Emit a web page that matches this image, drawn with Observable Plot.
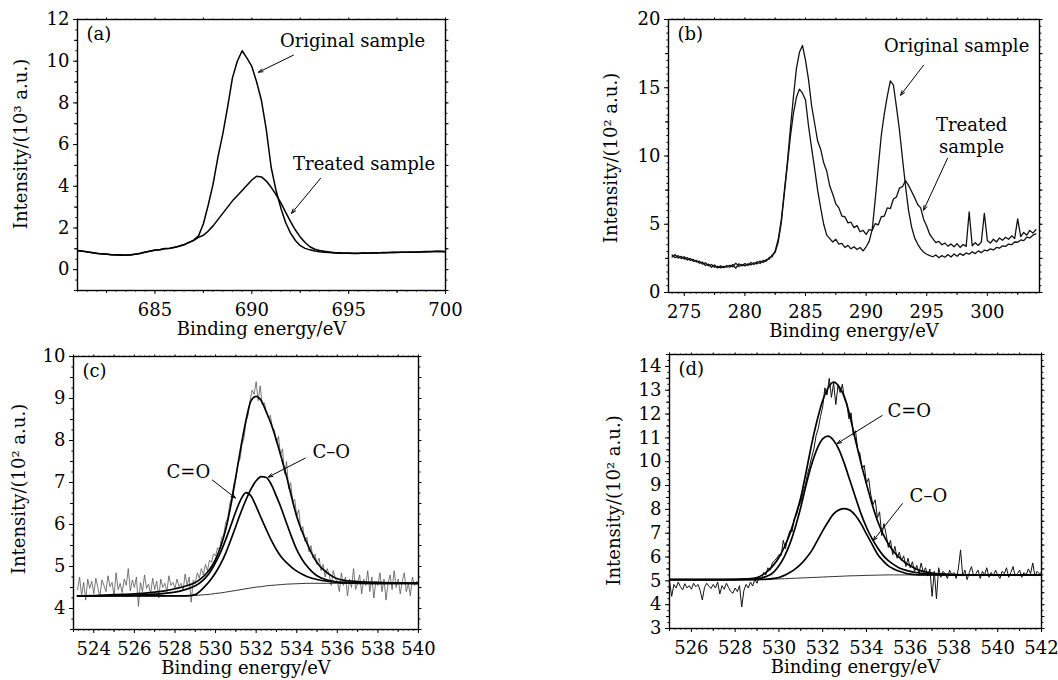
<!DOCTYPE html>
<html><head><meta charset="utf-8">
<script src="https://cdn.jsdelivr.net/npm/d3@7"></script>
<script src="https://cdn.jsdelivr.net/npm/@observablehq/plot@0.6"></script>
<style>
html,body{margin:0;padding:0;background:#fff;}
#root{position:relative;width:1058px;height:680px;overflow:hidden;background:#fff;}
#root svg{position:absolute;overflow:visible;}
</style></head><body><div id="root"></div>
<script>
// ---------- Panel (a): F 1s region, 681–700 eV, step 0.25 eV ----------
const aStart = 681, aStep = 0.25;
const aOriginal = [
  0.92,0.89,0.85,0.82,0.78,0.76,0.74,0.72,
  0.70,0.71,0.69,0.72,0.74,0.79,0.84,0.89,
  0.93,0.96,1.00,1.02,1.07,1.12,1.20,1.30,
  1.42,1.62,2.20,3.10,4.10,5.40,6.50,7.80,
  9.20,10.00,10.50,10.15,9.75,9.00,8.10,6.70,
  4.90,3.80,2.95,2.25,1.75,1.40,1.15,1.02,
  0.95,0.90,0.86,0.84,0.82,0.80,0.79,0.80,
  0.79,0.78,0.79,0.80,0.79,0.81,0.80,0.82,
  0.81,0.83,0.82,0.84,0.83,0.85,0.84,0.86,
  0.87,0.86,0.88,0.87,0.86
];
const aTreated = [
  0.91,0.88,0.86,0.81,0.79,0.75,0.75,0.71,
  0.71,0.69,0.70,0.70,0.75,0.78,0.85,0.88,
  0.94,0.95,1.01,1.03,1.06,1.13,1.19,1.31,
  1.40,1.55,1.65,1.85,2.10,2.40,2.70,3.00,
  3.30,3.55,3.80,4.05,4.30,4.48,4.45,4.25,
  3.95,3.60,3.20,2.75,2.30,1.90,1.57,1.30,
  1.10,0.98,0.92,0.88,0.85,0.82,0.81,0.79,
  0.80,0.79,0.78,0.80,0.80,0.80,0.81,0.81,
  0.82,0.82,0.83,0.83,0.84,0.84,0.85,0.85,
  0.86,0.87,0.87,0.88,0.87
];

// ---------- Panel (b): C 1s region, 274–304 eV, step 0.25 eV ----------
const bStart = 274, bStep = 0.25;
const bOriginal = [
  2.60,2.78,2.52,2.65,2.45,2.55,2.35,2.42,
  2.25,2.30,2.08,2.18,1.95,2.05,1.85,1.92,
  1.80,1.92,1.85,2.00,1.88,2.15,1.90,2.05,
  1.95,2.10,2.02,2.18,2.10,2.30,2.20,2.40,
  2.45,2.75,2.95,3.70,5.10,7.20,9.30,11.40,
  13.10,14.30,14.90,14.60,14.10,12.20,10.60,9.10,
  7.50,6.20,5.00,4.20,3.95,3.70,3.90,3.55,
  3.60,3.30,3.45,3.20,3.35,3.15,3.30,3.05,
  3.35,3.75,4.60,6.80,9.20,11.50,13.10,14.40,
  15.50,15.20,13.60,11.90,9.80,7.80,6.00,4.80,
  4.00,3.55,3.20,2.95,2.80,2.70,2.62,2.75,
  2.55,2.70,2.58,2.78,2.60,2.82,2.65,2.85,
  2.72,2.90,2.80,2.98,2.85,3.05,2.92,3.10,
  3.05,3.20,3.12,3.30,3.25,3.42,3.38,3.55,
  3.50,3.70,3.68,3.85,3.80,4.05,4.00,4.20,
  4.30
];
const bTreated = [
  2.75,2.55,2.70,2.48,2.62,2.38,2.50,2.28,
  2.35,2.15,2.22,1.98,2.08,1.85,2.02,1.80,
  1.95,1.82,1.98,1.85,2.05,1.78,2.10,1.95,
  2.12,1.98,2.20,2.05,2.25,2.12,2.35,2.28,
  2.55,2.62,3.05,3.90,5.30,7.40,9.50,12.00,
  14.30,16.40,17.60,18.10,17.00,15.60,13.70,12.40,
  11.10,10.50,9.50,8.90,7.80,7.20,6.50,6.20,
  5.60,5.55,5.10,5.15,4.75,4.90,4.45,4.55,
  4.25,4.60,4.55,5.05,4.95,5.55,5.60,6.20,
  6.15,6.85,7.00,7.65,7.75,8.20,7.85,7.40,
  6.95,6.45,6.20,5.35,4.85,4.25,3.95,3.65,
  3.75,3.50,3.62,3.40,3.55,3.35,3.58,3.30,
  3.52,3.38,5.90,3.42,3.65,3.45,3.70,5.80,
  3.80,3.62,3.90,3.70,4.00,3.82,4.05,3.90,
  4.15,3.95,5.40,4.10,4.40,4.20,4.55,4.35,
  4.60
];

// ---------- Panel (c): O 1s original, raw 523.2–540 eV step 0.1 ----------
const cStart = 523.2, cStep = 0.1;
const cRaw = [
  4.45,4.75,4.30,4.62,4.20,4.70,4.48,4.65,
  4.35,4.72,4.50,4.28,4.68,4.55,4.40,4.78,4.52,4.62,
  4.30,4.85,4.45,4.60,4.38,4.70,4.55,4.95,4.42,4.68,
  4.50,4.75,4.05,4.62,4.40,4.80,4.48,4.58,4.35,4.72,
  4.45,4.65,4.25,4.70,4.50,4.60,4.40,4.78,4.55,4.62,
  4.48,4.70,4.52,4.60,4.42,4.82,4.55,4.75,4.15,4.68,
  4.60,4.85,4.72,4.95,4.80,5.05,4.90,5.15,5.10,5.30,
  5.25,5.45,5.40,5.70,5.75,6.05,6.15,6.50,6.65,6.95,
  7.10,7.45,7.55,7.90,8.05,8.45,8.60,8.95,9.20,9.10,
  9.40,8.95,9.30,8.85,8.90,8.70,8.55,8.60,8.30,8.25,
  7.95,8.10,7.65,7.80,7.20,7.50,6.85,7.00,6.55,6.60,
  6.20,6.35,5.85,5.95,5.60,5.70,5.35,5.50,5.20,5.30,
  5.05,5.20,4.90,5.05,4.75,4.95,4.80,4.55,4.90,4.70,
  4.65,4.40,4.85,4.55,4.75,4.30,4.70,4.50,4.95,4.45,
  4.60,4.80,4.35,4.70,4.55,4.90,4.40,4.75,4.25,4.65,
  4.55,4.85,4.40,4.70,4.20,4.60,4.80,4.45,4.90,4.50,
  4.70,4.35,4.65,4.85,4.40,4.60,4.30,4.75,4.55,4.65,
  4.60
];
const cFitEnergy = [
  523.2,524,525,526,527,527.5,528,528.5,
  529,529.25,529.5,529.75,530,530.25,530.5,530.75,
  531,531.25,531.5,531.75,532,532.25,532.5,532.75,
  533,533.25,533.5,533.75,534,534.25,534.5,534.75,
  535,535.5,536,536.5,537,538,539,540
];
const cEnvelope = [
  4.30,4.31,4.33,4.35,4.39,4.42,4.47,4.53,
  4.62,4.70,4.81,4.96,5.17,5.47,5.88,6.45,
  7.14,7.85,8.48,8.95,9.05,8.95,8.68,8.38,
  8.00,7.58,7.14,6.65,6.19,5.85,5.56,5.30,
  5.09,4.85,4.71,4.66,4.64,4.62,4.61,4.60
];
const cDoubleCO = [
  4.30,4.30,4.31,4.32,4.34,4.36,4.39,4.45,
  4.54,4.62,4.73,4.88,5.09,5.34,5.64,5.97,
  6.31,6.60,6.76,6.68,6.43,6.15,5.88,5.62,
  5.40,5.22,5.09,4.98,4.89,4.82,4.76,4.72,
  4.69,4.65,4.63,4.62,4.61,4.60,4.60,4.60
];
const cSingleCO = [
  4.30,4.30,4.30,4.30,4.30,4.30,4.30,4.30,
  4.33,4.42,4.54,4.68,4.85,5.06,5.32,5.63,
  5.96,6.29,6.59,6.85,7.04,7.14,7.12,6.95,
  6.67,6.37,6.03,5.70,5.40,5.18,5.01,4.88,
  4.78,4.68,4.63,4.61,4.60,4.60,4.60,4.60
];
const cBackground = [
  4.30,4.30,4.30,4.30,4.30,4.30,4.30,4.30,
  4.31,4.32,4.33,4.34,4.36,4.37,4.39,4.41,
  4.43,4.45,4.47,4.49,4.51,4.52,4.54,4.55,
  4.56,4.57,4.58,4.585,4.59,4.595,4.60,4.60,
  4.60,4.60,4.60,4.60,4.60,4.60,4.60,4.60
];

// ---------- Panel (d): O 1s treated, raw 525–542 eV step 0.1 ----------
const dStart = 525, dStep = 0.1;
const dRaw = [
  5.00,4.35,4.85,4.70,4.95,4.75,4.62,4.88,4.70,4.80,
  4.65,4.90,4.75,4.85,4.60,4.20,4.72,4.90,4.78,4.68,
  4.85,4.70,4.95,4.45,4.80,4.65,4.90,4.72,4.55,4.48,
  4.70,4.55,4.80,3.90,4.60,4.85,4.70,4.95,4.78,5.05,
  4.90,5.20,5.05,5.35,5.25,5.55,5.45,5.75,5.85,5.95,
  6.10,6.05,6.70,6.35,6.80,7.10,7.05,7.60,7.75,8.10,
  8.30,8.70,9.00,9.45,9.80,10.20,10.55,11.10,11.40,11.90,
  12.30,13.10,12.80,13.50,12.70,13.30,12.40,13.20,12.90,13.25,
  12.60,12.45,11.80,12.05,11.10,11.30,10.50,10.35,9.70,9.85,
  9.10,9.30,8.60,8.20,8.40,7.65,7.90,6.90,7.40,6.95,
  6.40,6.70,6.10,6.45,5.95,6.20,5.85,6.05,5.60,5.95,
  5.55,5.80,5.40,5.65,5.30,5.75,5.35,5.55,5.20,5.50,
  4.35,5.40,4.25,5.55,5.15,5.40,5.30,5.10,5.45,5.25,
  5.35,5.10,5.50,6.30,5.20,5.45,5.05,5.35,5.60,5.20,
  5.30,5.45,5.10,5.40,5.25,5.55,5.15,5.35,5.20,5.45,
  5.25,5.10,5.40,5.30,5.55,5.15,5.35,5.60,5.20,5.30,
  5.45,5.15,5.35,5.25,5.50,5.30,5.75,5.20,5.40,5.30,
  5.35
];
const dFitEnergy = [
  525,526,527,528,528.5,
  529,529.25,529.5,529.75,530,530.25,530.5,530.75,
  531,531.25,531.5,531.75,532,532.25,532.5,532.75,
  533,533.25,533.5,533.75,534,534.25,534.5,534.75,
  535,535.25,535.5,535.75,536,536.25,536.5,536.75,
  537,
  537.5,538,539,540,541,542
];
const dEnvelope = [
  5.05,5.05,5.05,5.06,5.08,
  5.14,5.25,5.42,5.66,5.98,6.42,6.97,7.70,
  8.50,9.60,10.75,11.75,12.57,13.10,13.34,13.15,
  12.70,11.90,10.90,9.95,9.07,8.25,7.53,6.98,
  6.55,6.22,5.98,5.78,5.63,5.51,5.42,5.37,
  5.33,
  5.29,5.26,5.25,5.25,5.25,5.25
];
const dDoubleCO = [
  5.05,5.05,5.05,5.05,5.06,
  5.08,5.13,5.21,5.36,5.63,6.02,6.55,7.25,
  8.09,9.05,9.90,10.55,10.96,11.07,10.89,10.50,
  9.90,9.20,8.50,7.82,7.25,6.78,6.40,6.08,
  5.85,5.68,5.54,5.46,5.40,5.35,5.32,5.30,
  5.28,
  5.26,5.25,5.25,5.25,5.25,5.25
];
const dSingleCO = [
  5.05,5.05,5.05,5.05,5.05,
  5.05,5.06,5.07,5.10,5.14,5.23,5.35,5.50,
  5.70,5.96,6.27,6.68,7.10,7.48,7.81,7.98,
  8.03,7.96,7.74,7.40,6.97,6.55,6.13,5.85,
  5.63,5.50,5.40,5.33,5.28,5.26,5.25,5.25,
  5.25,
  5.25,5.25,5.25,5.25,5.25,5.25
];
const dBackground = [
  5.05,5.05,5.05,5.05,5.05,
  5.05,5.06,5.06,5.07,5.08,5.09,5.10,5.11,
  5.12,5.13,5.14,5.15,5.16,5.17,5.18,5.19,
  5.20,5.21,5.215,5.22,5.23,5.235,5.24,5.245,
  5.25,5.25,5.25,5.25,5.25,5.25,5.25,5.25,
  5.25,
  5.25,5.25,5.25,5.25,5.25,5.25
];

// ---------- text ----------
const xTitle = "Binding energy/eV";
const yTitleA = "Intensity/(10³ a.u.)";
const yTitleB = "Intensity/(10² a.u.)";
const panelTags = ["(a)", "(b)", "(c)", "(d)"];
const aNotes = [{x: 695.2, y: 11.03, t: "Original sample"}, {x: 695.8, y: 5.13, t: "Treated sample"}];
const aArrows = [{x1: 692.15, y1: 10.29, x2: 690.34, y2: 9.47}, {x1: 693.55, y1: 4.38, x2: 692.05, y2: 2.70}];
const bNotes = [{x: 297.47, y: 18.12, t: "Original sample"}, {x: 298.7, y: 11.52, t: "Treated\nsample"}];
const bArrows = [{x1: 294.74, y1: 16.65, x2: 292.84, y2: 14.45}, {x1: 296.72, y1: 9.84, x2: 294.74, y2: 6.03}];
const cNotes = [{x: 528.66, y: 7.28, t: "C=O"}, {x: 535.7, y: 7.76, t: "C–O"}];
const cArrows = [{x1: 529.84, y1: 7.06, x2: 530.98, y2: 6.63}, {x1: 534.42, y1: 7.58, x2: 532.6, y2: 7.13}];
const dNotes = [{x: 535.96, y: 12.17, t: "C=O"}, {x: 536.83, y: 8.6, t: "C–O"}];
const dArrows = [{x1: 534.72, y1: 11.94, x2: 532.66, y2: 10.76}, {x1: 535.64, y1: 8.24, x2: 534.31, y2: 6.69}];

// ---------- helpers ----------
const FONT = "'DejaVu Serif', 'Liberation Serif', serif";
const FS = 18;
const uniform = (start, step, ys) => ys.map((y, i) => ({x: Math.round((start + i * step) * 1000) / 1000, y}));
const paired = (xs, ys) => xs.map((x, i) => ({x, y: ys[i]}));
const rng = (a, b, s) => d3.range(0, Math.round((b - a) / s) + 1).map(i => Math.round((a + i * s) * 1000) / 1000);

function axes(xt, yt) {
  const none = () => "";
  return [
    Plot.axisX({ticks: xt.major, tickSize: 4, tickPadding: 9, label: null, tickFormat: d => String(d), fontSize: FS}),
    Plot.axisX({ticks: xt.minor, tickSize: 3, label: null, tickFormat: none}),
    Plot.axisX({ticks: xt.fine, tickSize: 1.6, label: null, tickFormat: none}),
    Plot.axisX({anchor: "top", ticks: xt.major.concat(xt.minor), tickSize: 2.5, label: null, tickFormat: none}),
    Plot.axisX({anchor: "top", ticks: xt.fine, tickSize: 1.4, label: null, tickFormat: none}),
    Plot.axisY({ticks: yt.major, tickSize: 4, tickPadding: 4, label: null, tickFormat: d => String(d), fontSize: FS}),
    Plot.axisY({ticks: yt.minor, tickSize: 3, label: null, tickFormat: none}),
    Plot.axisY({ticks: yt.fine, tickSize: 1.6, label: null, tickFormat: none}),
    Plot.axisY({anchor: "right", ticks: yt.major.concat(yt.minor), tickSize: 2.5, label: null, tickFormat: none}),
    Plot.axisY({anchor: "right", ticks: yt.fine, tickSize: 1.4, label: null, tickFormat: none})
  ];
}

function panel(cfg) {
  const svg = Plot.plot({
    width: cfg.w, height: cfg.h,
    marginLeft: cfg.m[0], marginRight: cfg.m[1], marginTop: cfg.m[2], marginBottom: cfg.m[3],
    x: {domain: cfg.xd}, y: {domain: cfg.yd},
    style: {fontFamily: FONT, fontSize: FS + "px", color: "#000", background: "transparent", overflow: "visible"},
    marks: [
      ...cfg.marks,
      Plot.frame({stroke: "#000", strokeWidth: 1.4}),
      ...axes(cfg.xt, cfg.yt),
      Plot.text([xTitle], {text: d => d, frameAnchor: "bottom", dy: 32, lineAnchor: "top", fontSize: FS}),
      Plot.text([cfg.yTitle], {text: d => d, frameAnchor: "left", rotate: -90, dx: cfg.ylab[0], dy: cfg.ylab[1], lineAnchor: "middle", textAnchor: "middle", fontSize: FS}),
      Plot.text([cfg.tag], {text: d => d, frameAnchor: "top-left", dx: 9, dy: 8, textAnchor: "start", lineAnchor: "top", fontSize: FS}),
      Plot.text(cfg.notes, {x: "x", y: "y", text: "t", textAnchor: "middle", lineAnchor: "middle", lineHeight: 1.2, fontSize: FS}),
      Plot.arrow(cfg.arrows, {x1: "x1", y1: "y1", x2: "x2", y2: "y2", stroke: "#000", strokeWidth: 1, headLength: 7, headAngle: 40, bend: 0})
    ]
  });
  svg.style.left = cfg.left + "px";
  svg.style.top = cfg.top + "px";
  document.getElementById("root").appendChild(svg);
}

const lineOpts = (w, c) => ({x: "x", y: "y", stroke: c || "#000", strokeWidth: w, clip: true});

panel({
  left: 0, top: 0, w: 529, h: 340, m: [77, 84, 19, 50],
  xd: [681, 700], yd: [-1, 12],
  xt: {major: [685, 690, 695, 700], minor: [682.5, 687.5, 692.5, 697.5], fine: rng(681, 700, 0.5)},
  yt: {major: [0, 2, 4, 6, 8, 10, 12], minor: [-1, 1, 3, 5, 7, 9, 11], fine: rng(-1, 12, 0.5)},
  yTitle: yTitleA, ylab: [-56, -11], tag: panelTags[0],
  notes: aNotes, arrows: aArrows,
  marks: [
    Plot.line(uniform(aStart, aStep, aTreated), lineOpts(1.5)),
    Plot.line(uniform(aStart, aStep, aOriginal), lineOpts(1.5))
  ]
});

panel({
  left: 529, top: 0, w: 529, h: 340, m: [139, 19, 19, 48],
  xd: [273.7, 304.3], yd: [0, 20],
  xt: {major: [275, 280, 285, 290, 295, 300], minor: [277.5, 282.5, 287.5, 292.5, 297.5, 302.5], fine: rng(274, 304, 0.5)},
  yt: {major: [0, 5, 10, 15, 20], minor: [2.5, 7.5, 12.5, 17.5], fine: rng(0, 20, 0.5)},
  yTitle: yTitleB, ylab: [-57, 2], tag: panelTags[1],
  notes: bNotes, arrows: bArrows,
  marks: [
    Plot.line(uniform(bStart, bStep, bTreated), lineOpts(1.3, "#111")),
    Plot.line(uniform(bStart, bStep, bOriginal), lineOpts(1.3, "#111"))
  ]
});

panel({
  left: 0, top: 340, w: 529, h: 340, m: [73, 111, 16, 51],
  xd: [523, 540], yd: [3.5, 10],
  xt: {major: rng(524, 540, 2), minor: rng(523, 539, 2), fine: rng(523, 540, 0.25)},
  yt: {major: rng(4, 10, 1), minor: rng(3.5, 9.5, 1), fine: rng(3.5, 10, 0.25)},
  yTitle: yTitleB, ylab: [-54, -4], tag: panelTags[2],
  notes: cNotes, arrows: cArrows,
  marks: [
    Plot.line(uniform(cStart, cStep, cRaw), lineOpts(0.8, "#555")),
    Plot.line(paired(cFitEnergy, cBackground), {...lineOpts(0.8), curve: "monotone-x"}),
    Plot.line(paired(cFitEnergy, cDoubleCO), {...lineOpts(1.7), curve: "monotone-x"}),
    Plot.line(paired(cFitEnergy, cSingleCO), {...lineOpts(1.7), curve: "monotone-x"}),
    Plot.line(paired(cFitEnergy, cEnvelope), {...lineOpts(1.7), curve: "monotone-x"})
  ]
});

panel({
  left: 529, top: 340, w: 529, h: 340, m: [140, 17, 14, 52],
  xd: [525, 542], yd: [3, 14.5],
  xt: {major: rng(526, 542, 2), minor: rng(525, 541, 2), fine: rng(525, 542, 0.25)},
  yt: {major: rng(3, 14, 1), minor: rng(3.5, 14.5, 1), fine: rng(3, 14.5, 0.25)},
  yTitle: yTitleB, ylab: [-55, 9], tag: panelTags[3],
  notes: dNotes, arrows: dArrows,
  marks: [
    Plot.line(uniform(dStart, dStep, dRaw), lineOpts(1.0, "#111")),
    Plot.line(paired(dFitEnergy, dBackground), {...lineOpts(0.8), curve: "monotone-x"}),
    Plot.line(paired(dFitEnergy, dDoubleCO), {...lineOpts(1.7), curve: "monotone-x"}),
    Plot.line(paired(dFitEnergy, dSingleCO), {...lineOpts(1.7), curve: "monotone-x"}),
    Plot.line(paired(dFitEnergy, dEnvelope), {...lineOpts(1.7), curve: "monotone-x"})
  ]
});
</script></body></html>
